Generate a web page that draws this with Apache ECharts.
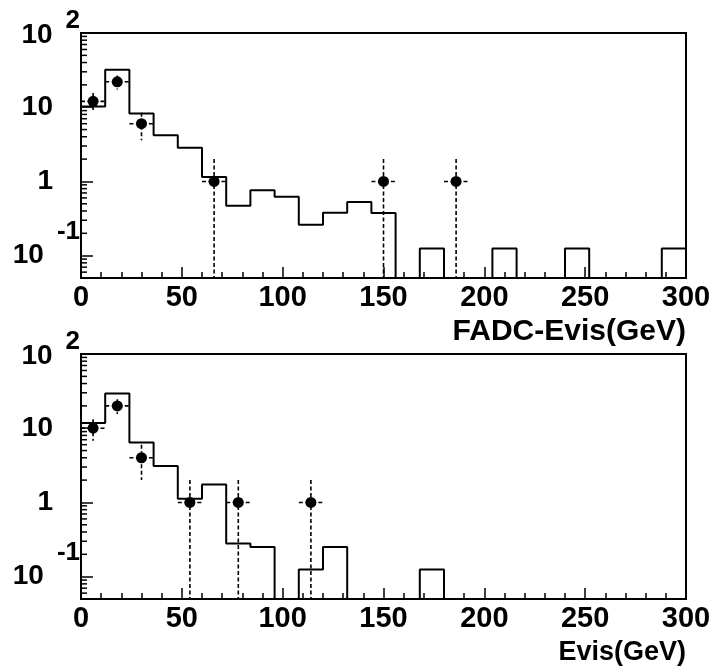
<!DOCTYPE html>
<html>
<head>
<meta charset="utf-8">
<script src="https://cdn.jsdelivr.net/npm/echarts@6/dist/echarts.min.js"></script>
<style>
  html, body { margin: 0; padding: 0; background: #ffffff; }
  #chart { width: 715px; height: 669px; }
</style>
</head>
<body>
<div id="chart"></div>
<script>
// Histogram binning: 25 bins of 12 GeV between 0 and 300 GeV
const binWidth = 12;
const xMax = 300;
const yMin = 0.05;
const yMax = 100;

// Upper panel: FADC-Evis
const fadcMC = [10.2, 32, 8.2, 4.2, 2.85, 1.15, 0.47, 0.76, 0.62, 0.26, 0.38, 0.53, 0.375,
                0, 0.125, 0, 0, 0.125, 0, 0, 0.125, 0, 0, 0, 0.125];
const fadcDataX = [6, 18, 30, 66, 150, 186];
const fadcDataY = [12, 22, 6, 1, 1, 1];
const fadcDataErr = [3.5, 4.7, 2.4, 1, 1, 1];

// Lower panel: Evis
const evisMC = [11.8, 29.4, 6.4, 3.1, 1.12, 1.75, 0.28, 0.25, 0, 0.125, 0.25, 0, 0,
                0, 0.125, 0, 0, 0, 0, 0, 0, 0, 0, 0, 0];
const evisDataX = [6, 18, 30, 54, 78, 114];
const evisDataY = [10, 20, 4, 1, 1, 1];
const evisDataErr = [3.2, 4.5, 2, 1, 1, 1];

// Log-axis minor tick positions (2..9 in each decade)
const minorTickValues = [0.06, 0.07, 0.08, 0.09,
  0.2, 0.3, 0.4, 0.5, 0.6, 0.7, 0.8, 0.9,
  2, 3, 4, 5, 6, 7, 8, 9,
  20, 30, 40, 50, 60, 70, 80, 90];

const xTitles = ['FADC-Evis(GeV)', 'Evis(GeV)'];

const FONT = '"Liberation Sans", Arial, Helvetica, sans-serif';

// Outline of a step histogram; empty bins sit on the lower edge of the frame
function histOutline(bins) {
  const pts = [[0, yMin]];
  bins.forEach((v, i) => {
    const y = Math.max(v, yMin);
    pts.push([i * binWidth, y]);
    pts.push([(i + 1) * binWidth, y]);
  });
  pts.push([xMax, yMin]);
  return pts;
}

function errorBarItem(params, api) {
  const x = api.value(0), y = api.value(1), e = api.value(2), hx = api.value(3);
  const top = api.coord([x, y + e]);
  const bot = api.coord([x, Math.max(y - e, yMin)]);
  const left = api.coord([x - hx, y]);
  const right = api.coord([x + hx, y]);
  const style = { stroke: '#000', lineWidth: 1.6, lineDash: [4, 2.5] };
  return {
    type: 'group',
    children: [
      { type: 'line', shape: { x1: top[0], y1: top[1], x2: bot[0], y2: bot[1] }, style: style },
      { type: 'line', shape: { x1: left[0], y1: left[1], x2: right[0], y2: right[1] }, style: style }
    ]
  };
}

function minorTickItem(params, api) {
  const p = api.coord([0, api.value(1)]);
  return {
    type: 'line',
    shape: { x1: p[0], y1: p[1], x2: p[0] + 6, y2: p[1] },
    style: { stroke: '#000', lineWidth: 1.5 }
  };
}

function logLabel(v) {
  const l = Math.log10(v);
  const p = Math.round(l);
  if (Math.abs(l - p) > 1e-6) return '';
  if (p === 2) return '{mt|10}{e2|2}';
  if (p === 1) return '{mp|10}';
  if (p === 0) return '{mp|1}';
  if (p === -1) return '{m|10}{en|-1}';
  return '';
}

const big = { fontSize: 28, fontWeight: 'bold', fontFamily: FONT, color: '#000' };
const tickFont = { fontSize: 29, fontWeight: 'bold', fontFamily: FONT, color: '#000' };
const titleSizes = [30, 27];

const grids = [
  { left: 81, top: 33, width: 605, height: 245 },
  { left: 81, top: 354, width: 605, height: 245 }
].map(g => Object.assign(g, {
  show: true, borderColor: '#000', borderWidth: 2,
  backgroundColor: 'transparent', containLabel: false, outerBoundsMode: 'none'
}));

const xAxes = [0, 1].map(i => ({
  type: 'value', gridIndex: i, min: 0, max: xMax, interval: 50,
  name: xTitles[i], nameLocation: 'end', nameGap: 0, nameMoveOverlap: false,
  nameTextStyle: Object.assign({}, big, {
    fontSize: titleSizes[i], align: 'right', verticalAlign: 'top',
    padding: [i === 0 ? 39 : 40, 0, 0, 0]
  }),
  axisLine: { show: true, onZero: false, lineStyle: { color: '#000', width: 2 } },
  axisTick: { show: true, inside: true, length: 11, lineStyle: { color: '#000', width: 1.5 } },
  minorTick: { show: true, splitNumber: 5, length: 6, lineStyle: { color: '#000', width: 1.5 } },
  splitLine: { show: false },
  minorSplitLine: { show: false },
  axisLabel: Object.assign({}, tickFont, { margin: 5, showMinLabel: true, showMaxLabel: true })
}));

const yAxes = [0, 1].map(i => ({
  type: 'log', logBase: 10, gridIndex: i, min: yMin, max: yMax,
  axisLine: { show: true, onZero: false, lineStyle: { color: '#000', width: 2 } },
  axisTick: { show: true, inside: true, length: 12, lineStyle: { color: '#000', width: 1.5 } },
  splitLine: { show: false },
  axisLabel: {
    margin: 1, formatter: logLabel, showMinLabel: true, showMaxLabel: true,
    rich: {
      m: { fontSize: 28, fontWeight: 'bold', fontFamily: FONT, color: '#000' },
      mt: { fontSize: 28, fontWeight: 'bold', fontFamily: FONT, color: '#000', padding: [5, 0, 0, 0] },
      mp: { fontSize: 28, fontWeight: 'bold', fontFamily: FONT, color: '#000', padding: [0, 27, 0, 0] },
      e2: { fontSize: 26, fontWeight: 'bold', fontFamily: FONT, color: '#000', padding: [0, 0, 25, 13] },
      en: { fontSize: 26, fontWeight: 'bold', fontFamily: FONT, color: '#000', padding: [0, 0, 47, 13] }
    }
  }
}));

const panels = [
  { mc: fadcMC, x: fadcDataX, y: fadcDataY, err: fadcDataErr },
  { mc: evisMC, x: evisDataX, y: evisDataY, err: evisDataErr }
];

const series = [];
panels.forEach((p, i) => {
  series.push({
    type: 'custom', xAxisIndex: i, yAxisIndex: i, silent: true, z: 1,
    renderItem: minorTickItem,
    data: minorTickValues.map(v => [0, v])
  });
  series.push({
    type: 'line', xAxisIndex: i, yAxisIndex: i, silent: true, z: 2,
    data: histOutline(p.mc), symbol: 'none', clip: true,
    lineStyle: { color: '#000', width: 2 }, animation: false
  });
  series.push({
    type: 'custom', xAxisIndex: i, yAxisIndex: i, silent: true, z: 3,
    renderItem: errorBarItem,
    data: p.x.map((x, k) => [x, p.y[k], p.err[k], binWidth / 2])
  });
  series.push({
    type: 'scatter', xAxisIndex: i, yAxisIndex: i, silent: true, z: 4,
    data: p.x.map((x, k) => [x, p.y[k]]),
    symbol: 'circle', symbolSize: 11,
    itemStyle: { color: '#000', opacity: 1 }
  });
});

const chart = echarts.init(document.getElementById('chart'), null, { renderer: 'canvas' });
chart.setOption({
  animation: false,
  backgroundColor: '#ffffff',
  grid: grids,
  xAxis: xAxes,
  yAxis: yAxes,
  series: series
});
</script>
</body>
</html>
